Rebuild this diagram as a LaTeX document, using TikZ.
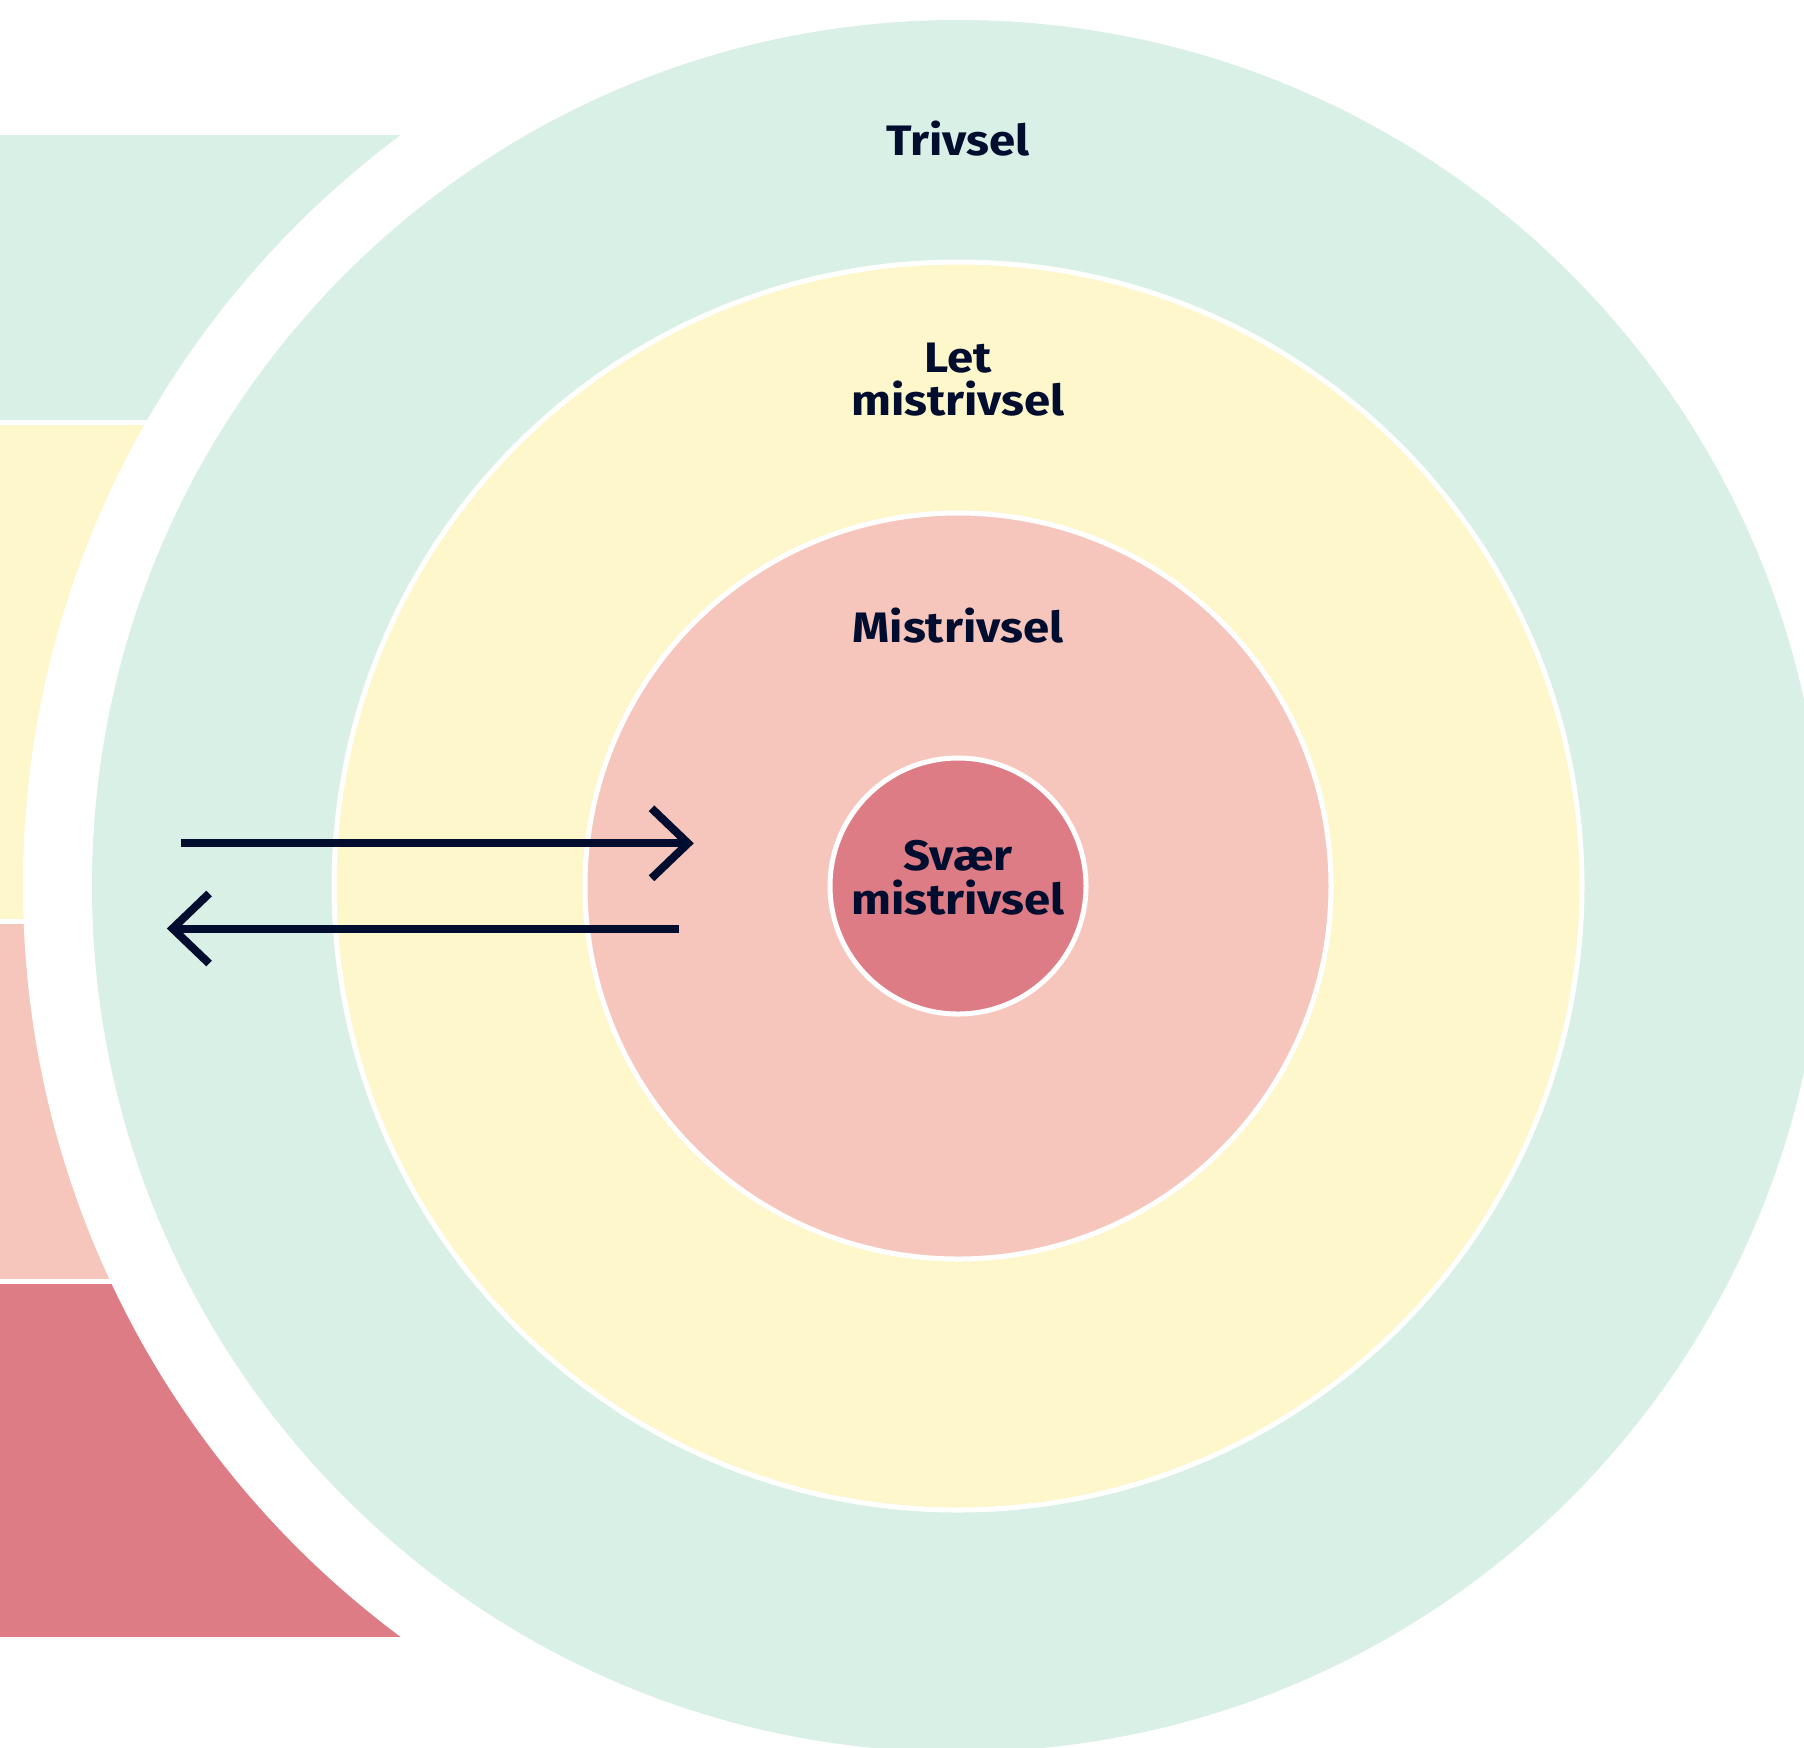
\documentclass[tikz,border=0pt]{standalone}
\usepackage{fontspec}
\setmainfont{Fira Sans}
\newfontfamily\lblfont{Fira Sans}[FakeStretch=1.11]
\definecolor{cgreen}{HTML}{D8F0E5}
\definecolor{cyellow}{HTML}{FEF7CC}
\definecolor{cpink}{HTML}{F6C6BD}
\definecolor{cred}{HTML}{DD7C84}
\definecolor{cnavy}{HTML}{000D2E}
\tikzset{
  lbl/.style={anchor=base, inner sep=0pt, text=cnavy, font=\lblfont\fontsize{21.3}{25}\selectfont\bfseries},
  ring/.style={draw=white, line width=2.5pt},
  arrowline/.style={draw=cnavy, line width=4pt},
  arrowhead/.style={draw=cnavy, line width=4pt, miter limit=10, line join=miter},
}
\begin{document}
\begin{tikzpicture}[x=0.5pt,y=-0.5pt]
\useasboundingbox (0,0) rectangle (1804,1747);
\clip (0,0) rectangle (1804,1747);
% left bands
\fill[cgreen]  (0,134.6) rectangle (958,420);
\fill[cyellow] (0,425)   rectangle (958,918.5);
\fill[cpink]   (0,923.5) rectangle (958,1279);
\fill[cred]    (0,1284)  rectangle (958,1637.2);
% white gap
\fill[white] (958,886) circle[radius=467.5pt];
% rings
\fill[cgreen] (958,886) circle[radius=433pt];
\path[ring, fill=cyellow] (958,886) circle[radius=312pt];
\path[ring, fill=cpink] (958,886) circle[radius=186.5pt];
\path[ring, fill=cred] (958,886) circle[radius=64pt];
% labels
\node[lbl] (trivsel) at (958,155) {Trivsel};
\node[lbl] (let1) at (958,372) {Let};
\node[lbl] (let2) at (958,415) {mistrivsel};
\node[lbl] (mis) at (958,642) {Mistrivsel};
\node[lbl] (svaer1) at (958,870) {Svær};
\node[lbl] (svaer2) at (958,914) {mistrivsel};
% arrows
\coordinate (a1) at (180.6,843.3);
\coordinate (a2) at (688,843.3);
\coordinate (b1) at (679,928.5);
\coordinate (b2) at (172.6,928.5);
\draw[arrowline] (a1) -- (a2);
\draw[arrowhead] (a2) ++(-36.5,-35) -- (a2) -- ++(-36.5,35);
\draw[arrowline] (b1) -- (b2);
\draw[arrowhead] (b2) ++(36.5,-35) -- (b2) -- ++(36.5,35);
\end{tikzpicture}
\end{document}
